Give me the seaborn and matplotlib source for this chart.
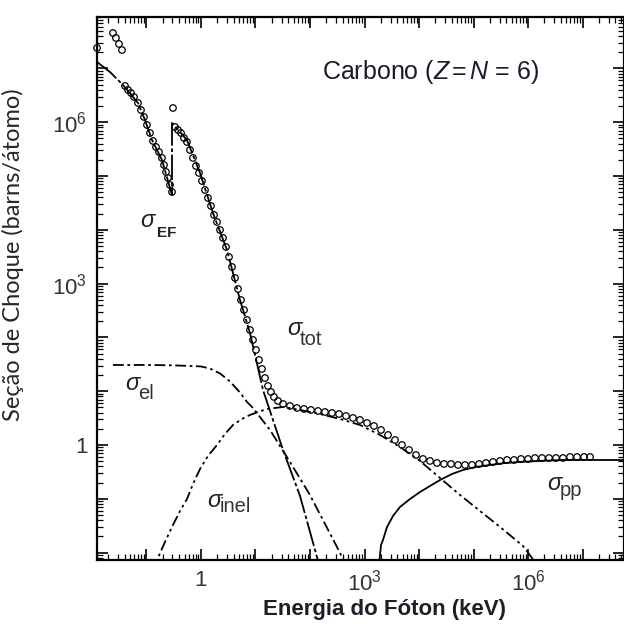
import numpy as np
import pandas as pd
import matplotlib
matplotlib.use("Agg")
import matplotlib.pyplot as plt
import seaborn as sns
from matplotlib.ticker import FixedLocator, FuncFormatter, LogLocator, NullFormatter

# ---------------- data (log10 of energy in keV, log10 of cross section in barns/atom) -------------
# total cross section (open circles, experimental)
tot_logE = [-1.908, -1.615, -1.560, -1.505, -1.450,
            -1.394, -1.339, -1.284, -1.229, -1.156, -1.101, -1.046, -0.991, -0.936, -0.881,
            -0.826, -0.771, -0.716, -0.679, -0.642, -0.606, -0.569, -0.532,
            -0.514,
            -0.477, -0.422, -0.367, -0.312, -0.257, -0.202, -0.147, -0.092, -0.037, 0.018,
            0.073, 0.128, 0.183, 0.239, 0.294, 0.349, 0.404, 0.459, 0.514, 0.569, 0.624,
            0.679, 0.734, 0.789, 0.844, 0.899, 0.954, 1.009, 1.064, 1.119, 1.174, 1.229,
            1.284, 1.339, 1.413, 1.505, 1.633, 1.761, 1.890, 2.018, 2.147, 2.275, 2.404,
            2.532, 2.661, 2.789, 2.917, 3.046, 3.174, 3.303, 3.431, 3.560, 3.688, 3.817,
            3.945, 4.073, 4.202, 4.330, 4.459, 4.587, 4.716, 4.844, 4.972, 5.101, 5.229,
            5.358, 5.486, 5.615, 5.743, 5.872, 6.000, 6.128, 6.257, 6.385, 6.514, 6.642,
            6.771, 6.899, 7.028, 7.138]
tot_logS = [7.379, 7.658, 7.565, 7.454, 7.342,
            6.673, 6.599, 6.543, 6.468, 6.357, 6.227, 6.097, 5.948, 5.799, 5.651,
            5.539, 5.446, 5.335, 5.204, 5.074, 4.963, 4.833, 4.703,
            6.264,
            5.911, 5.855, 5.799, 5.706, 5.632, 5.483, 5.335, 5.186, 5.056, 4.907,
            4.740, 4.591, 4.442, 4.275, 4.145, 3.996, 3.848, 3.680, 3.494, 3.309, 3.104,
            2.900, 2.695, 2.509, 2.323, 2.138, 1.952, 1.766, 1.580, 1.413, 1.245, 1.097,
            0.985, 0.892, 0.818, 0.762, 0.725, 0.688, 0.669, 0.651, 0.632, 0.613, 0.595,
            0.576, 0.539, 0.502, 0.465, 0.409, 0.353, 0.279, 0.186, 0.093, 0.000, -0.093,
            -0.186, -0.260, -0.297, -0.335, -0.353, -0.353, -0.372, -0.372, -0.372, -0.353, -0.335,
            -0.316, -0.297, -0.279, -0.279, -0.260, -0.260, -0.242, -0.242, -0.242, -0.242, -0.242,
            -0.223, -0.223, -0.223, -0.223]

# photoelectric effect (with K edge)
pe_logE = [-1.908, -1.670, -1.431, -1.156, -1.028, -0.899, -0.716, -0.532,
           -0.532, -0.257, -0.018, 0.220, 0.477, 0.716, 0.899, 1.138, 1.505, 1.817, 2.128, 2.200]
pe_logS = [7.119, 6.933, 6.691, 6.357, 6.041, 5.669, 5.297, 4.647,
           5.985, 5.669, 5.056, 4.312, 3.625, 2.695, 2.082, 1.022, -0.093, -0.948, -2.082, -2.350]

# coherent (elastic) scattering
el_logE = [-1.615, -0.936, -0.500, 0.000, 0.165, 0.349, 0.532, 0.716, 0.844, 0.954,
           1.266, 1.633, 1.999, 2.495, 2.587, 2.642]
el_logS = [1.487, 1.487, 1.480, 1.460, 1.420, 1.330, 1.180, 0.975, 0.800, 0.688,
           0.279, -0.316, -0.929, -1.896, -2.082, -2.230]

# incoherent (inelastic) scattering
inel_logE = [-0.936, -0.807, -0.661, -0.514, -0.385, -0.257, -0.147, -0.018, 0.128, 0.294,
             0.440, 0.587, 0.752, 0.899, 1.046, 1.211, 1.358, 1.505,
             1.817, 2.183, 2.550, 2.917, 3.284, 3.651, 4.018, 4.385, 4.752, 5.119,
             5.486, 5.908, 6.128]
inel_logS = [-2.416, -2.138, -1.803, -1.487, -1.227, -1.004, -0.725, -0.446, -0.204, 0.000,
             0.204, 0.372, 0.483, 0.558, 0.613, 0.669, 0.688, 0.706,
             0.651, 0.576, 0.483, 0.372, 0.186, -0.037, -0.297, -0.613, -0.929, -1.227,
             -1.524, -1.877, -2.175]

# pair production
pp_logE = [3.266, 3.303, 3.339, 3.413, 3.523, 3.651, 3.835, 4.018, 4.202, 4.385, 4.606,
           4.807, 5.046, 5.303, 5.578, 5.853, 6.220, 6.642, 7.800]
pp_logS = [-2.230, -1.859, -1.766, -1.524, -1.320, -1.152, -1.004, -0.874, -0.762, -0.651,
           -0.539, -0.465, -0.409, -0.372, -0.335, -0.316, -0.297, -0.279, -0.279]

# label positions (log10 E, log10 sigma) for sigma glyph and subscript baseline
lbl_names = ["EF", "tot", "el", "inel", "pp"]
lbl_sig = [(-1.119, 4.052), (1.578, 2.045), (-1.394, 1.022), (0.110, -1.152), (6.349, -0.836)]
lbl_sub = [(-0.807, 3.866), (1.817, 1.859), (-1.156, 0.855), (0.349, -1.245), (6.587, -0.948)]

# ---------------- style -------------
sns.set_theme(style="ticks")
plt.rcParams["font.family"] = ["Liberation Sans", "DejaVu Sans"]
plt.rcParams["mathtext.fontset"] = "custom"
plt.rcParams["mathtext.rm"] = "Liberation Sans"
plt.rcParams["mathtext.it"] = "Liberation Sans:italic"
plt.rcParams["mathtext.bf"] = "Liberation Sans:bold"


def df(le, ls):
    return pd.DataFrame({"E": 10.0 ** np.array(le), "S": 10.0 ** np.array(ls)})


fig = plt.figure(figsize=(6.24, 6.24), dpi=100)
W = H = 624.0
ax = fig.add_axes([97 / W, 1 - 560 / H, (624 - 97) / W, (560 - 17) / H])
ax.set_xscale("log")
ax.set_yscale("log")

lw = 1.3
sns.lineplot(data=df(pe_logE, pe_logS), x="E", y="S", ax=ax, sort=False, estimator=None,
             color="black", lw=lw, linestyle=(0, (14, 1.5, 2, 1.5)))
sns.lineplot(data=df(el_logE, el_logS), x="E", y="S", ax=ax, sort=False, estimator=None,
             color="black", lw=lw, linestyle=(0, (6, 2, 1.5, 2)))
sns.lineplot(data=df(inel_logE, inel_logS), x="E", y="S", ax=ax, sort=False, estimator=None,
             color="black", lw=lw, linestyle=(0, (6, 2, 1.5, 2, 1.5, 2)))
sns.lineplot(data=df(pp_logE, pp_logS), x="E", y="S", ax=ax, sort=False, estimator=None,
             color="black", lw=lw, linestyle="-")
sns.scatterplot(data=df(tot_logE, tot_logS), x="E", y="S", ax=ax, s=22, marker="o",
                facecolors="none", edgecolor="black", linewidth=0.9, clip_on=False, zorder=5)

ax.set_xlim(10 ** -1.908, 10 ** 7.761)
ax.set_ylim(10 ** -2.138, 10 ** 7.955)

labels = {0: "1", 3: r"$10^{3}$", 6: r"$10^{6}$"}
fmt = FuncFormatter(lambda v, p: labels.get(int(round(np.log10(v))), ""))
for axis in (ax.xaxis, ax.yaxis):
    axis.set_major_locator(FixedLocator([10.0 ** k for k in range(-3, 10)]))
    axis.set_minor_locator(LogLocator(base=10, subs=np.arange(2, 10), numticks=200))
    axis.set_major_formatter(fmt)
    axis.set_minor_formatter(NullFormatter())

ax.tick_params(which="both", direction="in", top=True, right=True, colors="black",
               labelcolor="#333333")
ax.tick_params(which="major", length=8, width=1.2, labelsize=16, pad=7)
ax.tick_params(which="minor", length=4, width=0.9)
for sp in ax.spines.values():
    sp.set_linewidth(1.6)
    sp.set_color("black")

ax.set_xlabel("Energia do Fóton (keV)", fontsize=16, fontweight="bold", color="#1e1e28")
ax.set_ylabel("Seção de Choque (barns/átomo)", fontsize=17, color="#2a2520",
              family=["Lato", "DejaVu Sans"])
ax.xaxis.set_label_coords(0.546, -0.072)
ax.yaxis.set_label_coords(-0.139, 0.562)

ax.text(10 ** 2.22, 10 ** 6.93, r"Carbono ($Z\,$=$\,N$ = 6)", fontsize=18, color="#1b1b2b",
        ha="left", va="center")

for name, (sx, sy), (bx, by) in zip(lbl_names, lbl_sig, lbl_sub):
    ax.text(10 ** sx, 10 ** sy, "σ", fontsize=17, style="italic", color="#222222",
            ha="left", va="baseline")
    if name == "EF":
        ax.text(10 ** bx, 10 ** by, name, fontsize=11, fontweight="bold", color="#222222",
                ha="left", va="baseline")
    else:
        ax.text(10 ** bx, 10 ** by, name, fontsize=14.5, color="#333333",
                ha="left", va="baseline")

fig.savefig("out.png", dpi=100)
